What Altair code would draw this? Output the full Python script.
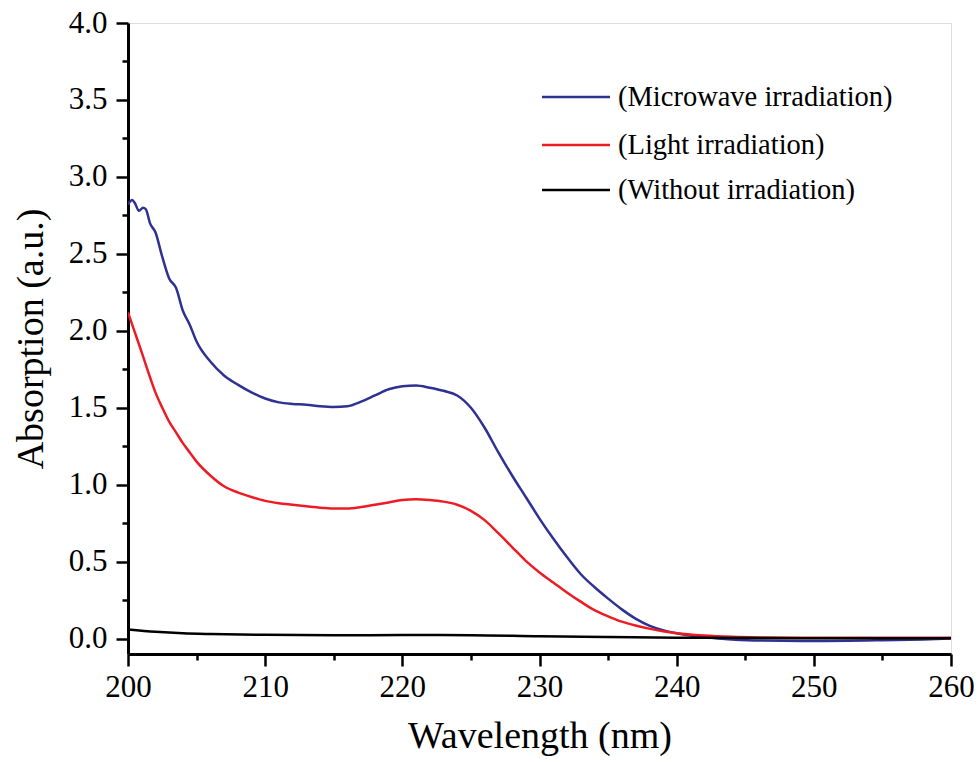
import altair as alt
import pandas as pd

# ---- data ----
series_names = ["(Microwave irradiation)", "(Light irradiation)", "(Without irradiation)"]
series_colors = ["#2E3192", "#ED1C24", "#000000"]

wl_micro = [200, 200.3, 200.5, 200.8, 201.1, 201.3, 201.6, 202, 202.5, 203, 203.5, 204, 204.5,
            205, 206, 207, 208, 209, 210, 211, 212, 213, 214, 215, 216, 217, 218, 219, 220,
            221, 222, 223, 224, 225, 226, 227, 228, 229, 230, 231, 232, 233, 234, 235, 236,
            237, 238, 239, 240, 241, 242, 243, 244, 246, 250, 255, 258, 260]
abs_micro = [2.82, 2.85, 2.83, 2.78, 2.80, 2.79, 2.70, 2.64, 2.48, 2.34, 2.28, 2.13, 2.04,
             1.93, 1.80, 1.71, 1.65, 1.60, 1.56, 1.535, 1.525, 1.52, 1.51, 1.505, 1.51, 1.54,
             1.58, 1.62, 1.64, 1.645, 1.63, 1.61, 1.58, 1.50, 1.37, 1.21, 1.06, 0.92, 0.78,
             0.65, 0.53, 0.42, 0.335, 0.26, 0.19, 0.13, 0.085, 0.055, 0.035, 0.02, 0.01, 0.0,
             -0.005, -0.012, -0.015, -0.01, -0.005, 0.0]

wl_light = [200, 200.5, 201, 201.6, 202, 202.5, 203, 203.5, 204, 204.5, 205, 206, 207, 208,
            209, 210, 211, 212, 213, 214, 215, 216, 217, 218, 219, 220, 221, 222, 223, 224,
            225, 226, 227, 228, 229, 230, 231, 232, 233, 234, 235, 236, 237, 238, 239, 240,
            242, 244, 246, 250, 255, 260]
abs_light = [2.12, 1.99, 1.86, 1.70, 1.60, 1.50, 1.41, 1.34, 1.27, 1.21, 1.15, 1.06, 0.99,
             0.95, 0.92, 0.895, 0.88, 0.87, 0.86, 0.85, 0.845, 0.845, 0.855, 0.87, 0.885,
             0.90, 0.905, 0.90, 0.89, 0.87, 0.83, 0.77, 0.685, 0.595, 0.505, 0.43, 0.365,
             0.30, 0.24, 0.185, 0.145, 0.11, 0.085, 0.065, 0.048, 0.035, 0.02, 0.012, 0.008,
             0.005, 0.005, 0.005]

wl_none = [200, 202, 204, 206, 210, 215, 220, 225, 230, 235, 240, 246, 250, 260]
abs_none = [0.06, 0.045, 0.035, 0.03, 0.025, 0.022, 0.023, 0.022, 0.015, 0.01, 0.006, 0.004,
            0.002, 0.002]

x_major = [200, 210, 220, 230, 240, 250, 260]
x_minor = [205, 215, 225, 235, 245, 255]
y_major = [0.0, 0.5, 1.0, 1.5, 2.0, 2.5, 3.0, 3.5, 4.0]
y_minor = [0.25, 0.75, 1.25, 1.75, 2.25, 2.75, 3.25, 3.75]

rows = []
for name, xs, ys in [(series_names[0], wl_micro, abs_micro),
                     (series_names[1], wl_light, abs_light),
                     (series_names[2], wl_none, abs_none)]:
    for i, (a, b) in enumerate(zip(xs, ys)):
        rows.append({"series": name, "wl": a, "A": b, "order": i})
df = pd.DataFrame(rows)

FONT = "Liberation Serif"
W, H = 823, 631

xscale = alt.Scale(domain=[200, 260], nice=False, zero=False)
yscale = alt.Scale(domain=[-0.1, 4.0], nice=False, zero=False)

lines = alt.Chart(df).mark_line(strokeWidth=2.5, clip=True, interpolate="monotone").encode(
    x=alt.X("wl:Q", scale=xscale,
            axis=alt.Axis(values=x_major, title="Wavelength (nm)", orient="bottom",
                          tickSize=12, tickWidth=2.5, domainWidth=3, domainColor="black",
                          tickColor="black", labelFont=FONT, labelFontSize=31,
                          labelColor="black", labelPadding=6, titleFont=FONT,
                          titleFontSize=38, titleFontWeight="normal", titleColor="black",
                          titleBaseline="alphabetic", titleY=93, grid=False,
                          labelFlush=False)),
    y=alt.Y("A:Q", scale=yscale,
            axis=alt.Axis(values=y_major, title="Absorption (a.u.)", orient="left",
                          format=".1f", tickSize=12, tickWidth=2.5, domainWidth=3,
                          domainColor="black", tickColor="black", labelFont=FONT,
                          labelFontSize=31, labelColor="black", labelPadding=9,
                          titleFont=FONT, titleFontSize=38, titleFontWeight="normal",
                          titleColor="black", titleBaseline="alphabetic", titleX=-86,
                          titleY=H / 2, titleAngle=270, grid=False, labelFlush=False)),
    color=alt.Color("series:N", scale=alt.Scale(domain=series_names, range=series_colors),
                    legend=None),
    order="order:Q",
    detail="series:N",
)

minor = alt.Chart(df).mark_point(opacity=0).encode(
    x=alt.X("wl:Q", scale=xscale,
            axis=alt.Axis(values=x_minor, orient="bottom", labels=False, title=None,
                          tickSize=6, tickWidth=2.5, tickColor="black", domain=False,
                          grid=False)),
    y=alt.Y("A:Q", scale=yscale,
            axis=alt.Axis(values=y_minor, orient="left", labels=False, title=None,
                          tickSize=6, tickWidth=2.5, tickColor="black", domain=False,
                          grid=False)),
)

legend_layers = []
row_y = [74, 122, 167]
for name, col, yy in zip(series_names, series_colors, row_y):
    ldf = pd.DataFrame({"label": [name]})
    legend_layers.append(
        alt.Chart(ldf).mark_rule(color=col, strokeWidth=2.5).encode(
            x=alt.value(414), x2=alt.value(482), y=alt.value(yy)))
    legend_layers.append(
        alt.Chart(ldf).mark_text(font=FONT, fontSize=28.5, align="left", baseline="middle",
                                 color="black").encode(
            text="label:N", x=alt.value(490), y=alt.value(yy)))

chart = alt.layer(lines, minor, *legend_layers).resolve_axis(
    x="independent", y="independent"
).properties(
    width=W, height=H,
    padding={"left": 128, "top": 23, "right": 29, "bottom": 108},
    autosize=alt.AutoSizeParams(type="none"),
).configure_view(stroke="black", strokeWidth=2.5).configure(background="white")

chart.save("out.html", embed_options={"renderer": "svg", "actions": False})
